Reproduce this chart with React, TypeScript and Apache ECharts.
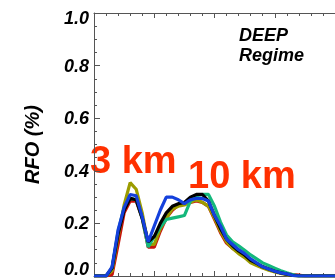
import React, { useEffect, useRef } from "react";
import * as echarts from "echarts";

const heights = [0,0.5,1,1.5,2,2.5,3,3.5,4,4.5,5,5.5,6,6.5,7,7.5,8,8.5,9,9.5,10,10.5,11,11.5,12,12.5,13,13.5,14,14.5,15,15.5,16,16.5,17,17.5,18,18.5,19,19.5,20];
const redVals = [0,0,0,0.005,0.12,0.24,0.285,0.285,0.22,0.11,0.11,0.17,0.22,0.25,0.27,0.275,0.28,0.285,0.28,0.265,0.215,0.165,0.125,0.105,0.09,0.075,0.055,0.045,0.035,0.025,0.018,0.012,0.008,0.005,0.003,0,0,0,0,0,0];
const oliveVals = [0,0,0,0.02,0.15,0.27,0.355,0.33,0.24,0.12,0.12,0.18,0.22,0.255,0.265,0.27,0.28,0.29,0.28,0.265,0.22,0.17,0.13,0.105,0.085,0.07,0.05,0.04,0.03,0.022,0.015,0.01,0.005,0.002,0,0,0,0,0,0,0];
const greenVals = [0,0,0,0.03,0.17,0.26,0.295,0.29,0.22,0.11,0.15,0.185,0.215,0.22,0.225,0.23,0.285,0.305,0.31,0.31,0.265,0.205,0.156,0.13,0.115,0.098,0.08,0.065,0.05,0.04,0.03,0.02,0.012,0.005,0,0,0,0,0,0,0];
const blackVals = [0,0,0,0.03,0.16,0.25,0.295,0.29,0.22,0.13,0.15,0.2,0.24,0.265,0.275,0.28,0.3,0.31,0.31,0.285,0.23,0.18,0.14,0.115,0.095,0.08,0.06,0.048,0.035,0.027,0.018,0.012,0.007,0.002,0,0,0,0,0,0,0];
const blueVals = [0,0,0,0.035,0.175,0.26,0.31,0.305,0.225,0.13,0.19,0.25,0.3,0.3,0.29,0.275,0.29,0.295,0.295,0.285,0.23,0.19,0.14,0.12,0.1,0.085,0.065,0.05,0.035,0.027,0.018,0.012,0.008,0.002,0,0,0,0,0,0,0];
const yTicks = [0, 0.2, 0.4, 0.6, 0.8, 1.0];

const FONT = "'Liberation Sans', Arial, Helvetica, sans-serif";

export default function App() {
  const ref = useRef<HTMLDivElement>(null);
  useEffect(() => {
    if (!ref.current) return;
    const chart = echarts.init(ref.current, undefined, { renderer: "svg" });
    const mk = (name: string, vals: number[], color: string) => ({
      name,
      type: "line",
      xAxisIndex: 0,
      data: heights.map((h, i) => [h, vals[i]]),
      symbol: "none",
      lineStyle: { color, width: 3.2 },
      itemStyle: { color },
    });
    const axisCommon = {
      type: "value",
      min: 0,
      max: 20,
      interval: 5,
      axisLine: { show: true, lineStyle: { color: "#555", width: 1 } },
      axisTick: { show: true, inside: true, length: 5, lineStyle: { color: "#555" } },
      minorTick: { show: true, splitNumber: 5, length: 3, lineStyle: { color: "#555" } },
      axisLabel: { show: false },
      splitLine: { show: false },
    };
    chart.setOption({
      animation: false,
      grid: { left: 94, top: 13, bottom: 4, right: -6, containLabel: false },
      xAxis: [
        { ...axisCommon, position: "bottom" },
        { ...axisCommon, position: "top" },
      ],
      yAxis: {
        type: "value",
        min: yTicks[0],
        max: yTicks[yTicks.length - 1],
        interval: 0.2,
        axisLine: { show: true, lineStyle: { color: "#555", width: 1 } },
        axisTick: { show: true, inside: true, length: 6, lineStyle: { color: "#555" } },
        minorTick: { show: true, splitNumber: 4, length: 3, lineStyle: { color: "#555" } },
        splitLine: { show: false },
        axisLabel: {
          margin: 5,
          formatter: (v: number) => {
            const s = v.toFixed(1);
            if (v === 0) return "{lo|" + s + "}";
            if (v === 1) return "{hi|" + s + "}";
            return "{n|" + s + "}";
          },
          rich: {
            n: { fontSize: 18, fontWeight: "bold", fontStyle: "italic", fontFamily: FONT, color: "#000" },
            lo: { fontSize: 18, fontWeight: "bold", fontStyle: "italic", fontFamily: FONT, color: "#000", padding: [0, 0, 14, 0] },
            hi: { fontSize: 18, fontWeight: "bold", fontStyle: "italic", fontFamily: FONT, color: "#000", padding: [10, 0, 0, 0] },
          },
        },
        name: "RFO (%)",
        nameLocation: "middle",
        nameGap: 52,
        nameTextStyle: { fontSize: 20, fontWeight: "bold", fontStyle: "italic", fontFamily: FONT, color: "#000" },
      },
      series: [
        mk("red", redVals, "#c8140c"),
        mk("olive", oliveVals, "#9c9c00"),
        mk("green", greenVals, "#14b87c"),
        mk("black", blackVals, "#000000"),
        mk("blue", blueVals, "#1440dc"),
      ],
      graphic: [
        { type: "text", left: 239, top: 25, style: { text: "DEEP\nRegime", fontSize: 18, lineHeight: 20, fontWeight: "bold", fontStyle: "italic", fontFamily: FONT, fill: "#000" } },
        { type: "text", left: 90, top: 141, style: { text: "3 km", fontSize: 38, fontWeight: "bold", fontFamily: FONT, fill: "#ff3000" } },
        { type: "text", left: 188, top: 156, style: { text: "10 km", fontSize: 38, fontWeight: "bold", fontFamily: FONT, fill: "#ff3000" } },
      ],
    });
    return () => chart.dispose();
  }, []);
  return <div ref={ref} style={{ position: "fixed", left: 0, top: 0, width: 335, height: 280 }} />;
}
